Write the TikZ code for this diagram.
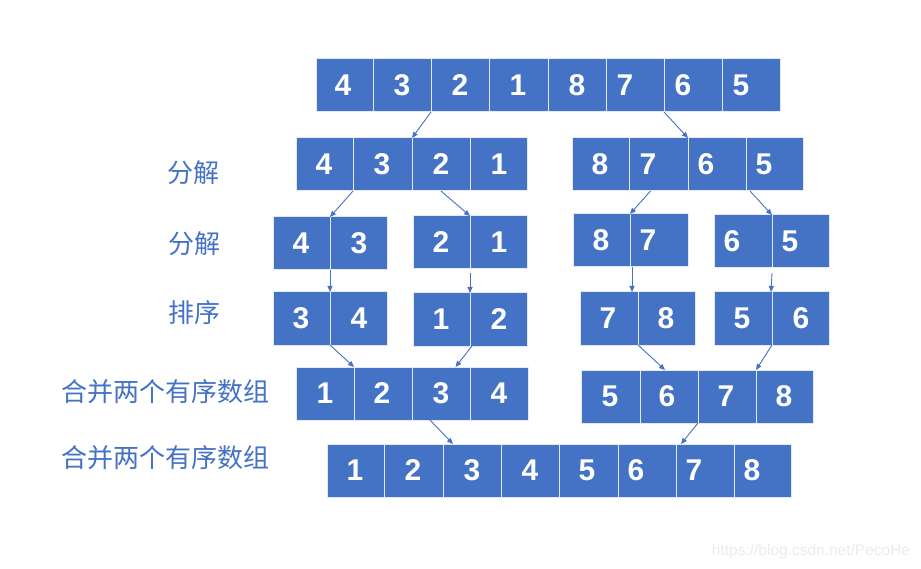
\documentclass[tikz,border=0pt]{standalone}
\usepackage{fontspec}
\setmainfont{Liberation Sans}
\newfontfamily\cjk{Noto Sans CJK SC}
\usetikzlibrary{fit,arrows.meta,calc}
\definecolor{obl}{HTML}{4472C4}
\definecolor{wm}{HTML}{EBEBEB}
\definecolor{edge}{HTML}{E4EAF5}
\tikzset{
  cellbox/.style={fill=obl, draw=edge, line width=1pt, inner sep=0pt, outer sep=0pt},
  digit/.style={text=white, font=\bfseries\fontsize{30}{32}\selectfont, inner sep=0pt},
  lab/.style={text=obl, font=\cjk\fontsize{26}{28}\selectfont, inner sep=0pt},
  conn/.style={draw=obl, line width=0.9pt, -{Triangle[length=6pt,width=5pt]}},
}
\newcommand\cellrow[4]{%
  \foreach \xl/\xr/\d/\xd [count=\i] in {#4} {
    \node[cellbox, fit={(\xl,#2)(\xr,#3)}] (#1-\i) {};
    \node[digit] (#1-d\i) at (\xd,{(#2+#3)/2}) {\d};
  }}
\begin{document}
\begin{tikzpicture}[x=1pt,y=-1pt]
\useasboundingbox (0,0) rectangle (921,569);
\cellrow{r1}{59}{112}{316/373/4/343, 373/431/3/402, 431/489/2/460, 489/548/1/518, 548/606/8/577, 606/664/7/625, 664/722/6/683, 722/780/5/741}
\cellrow{r2a}{138}{191}{296/353/4/324, 353/412/3/382, 412/470/2/441, 470/527/1/499}
\cellrow{r2b}{138}{191}{572/629/8/600, 629/688/7/648, 688/746/6/706, 746/803/5/764}
\cellrow{r3a}{217}{270}{273/330/4/301, 330/387/3/359}
\cellrow{r3b}{216}{269}{413/470/2/441, 470/527/1/499}
\cellrow{r3c}{214}{267}{573/630/8/601, 630/688/7/648}
\cellrow{r3d}{215}{268}{714/772/6/732, 772/829/5/790}
\cellrow{r4a}{292}{345}{273/330/3/301, 330/387/4/359}
\cellrow{r4b}{293}{346}{413/470/1/441, 470/527/2/499}
\cellrow{r4c}{292}{345}{580/638/7/608, 638/695/8/666}
\cellrow{r4d}{292}{345}{714/772/5/742, 772/829/6/801}
\cellrow{r5a}{367}{420}{296/354/1/325, 354/412/2/382, 412/470/3/441, 470/528/4/499}
\cellrow{r5b}{370}{423}{581/640/5/610, 640/698/6/667, 698/756/7/726, 756/813/8/784}
\cellrow{r6}{444}{497}{327/384/1/355, 384/443/2/413, 443/501/3/472, 501/559/4/530, 559/618/5/587, 618/676/6/636, 676/734/7/694, 734/791/8/752}
% labels
\node[lab] (l1) at (193,173) {分解};
\node[lab] (l2) at (194,244) {分解};
\node[lab] (l3) at (194,313) {排序};
\node[lab] (l4) at (165,392) {合并两个有序数组};
\node[lab] (l5) at (165,458) {合并两个有序数组};
\node[text=wm, font=\fontsize{15.5}{17}\selectfont, inner sep=0pt] (wmk) at (811,551) {https://blog.csdn.net/PecoHe};
% connectors
\draw[conn] (r1-3.south west) -- (r2a-3.north west);
\draw[conn] (r1-7.south west) -- (r2b-3.north west);
\draw[conn] (r2a-2.south west) -- (r3a-2.north west);
\draw[conn] (r2a-3.south) -- (r3b-2.north west);
\draw[conn] ([xshift=-8pt]r2b-2.south) -- (r3c-2.north west);
\draw[conn] ([xshift=4pt]r2b-4.south west) -- (r3d-2.north west);
\draw[conn] (r3a-2.south west) -- (r4a-2.north west);
\draw[conn] ([yshift=-4pt]r3b-2.south west) -- (r4b-2.north west);
\draw[conn] ([xshift=2pt]r3c-2.south west) -- ([xshift=2pt]r3c-2.south west |- r4c-1.north);
\draw[conn] ([yshift=-5pt]r3d-2.south west) -- ([xshift=-1pt]r4d-2.north west);
\draw[conn] (r4a-2.south west) -- (r5a-2.north west);
\draw[conn] ([xshift=2pt]r4b-2.south west) -- ($(r5a-3.north)!0.5!(r5a-3.north east)$);
\draw[conn] (r4c-2.south west) -- ([xshift=-4pt]r5b-2.north);
\draw[conn] (r4d-2.south west) -- (r5b-4.north west);
\draw[conn] ([xshift=-11pt]r5a-3.south) -- ([xshift=10pt]r6-3.north west);
\draw[conn] (r5b-3.south west) -- ([xshift=5pt]r6-7.north west);
\end{tikzpicture}
\end{document}
